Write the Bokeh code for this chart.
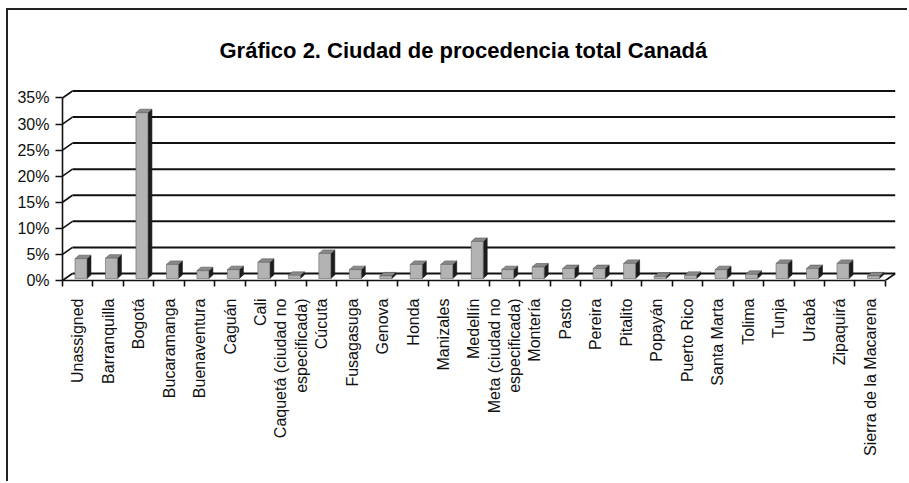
import math
from bokeh.plotting import figure
from bokeh.models import FixedTicker, Range1d
from bokeh.embed import file_html
from bokeh.resources import INLINE

categories = ["Unassigned", "Barranquilla", "Bogotá", "Bucaramanga", "Buenaventura",
              "Caguán", "Cali", "Caquetá (ciudad no\nespecificada)", "Cúcuta", "Fusagasuga",
              "Genova", "Honda", "Manizales", "Medellín", "Meta (ciudad no\nespecificada)",
              "Montería", "Pasto", "Pereira", "Pitalito", "Popayán", "Puerto Rico",
              "Santa Marta", "Tolima", "Tunja", "Urabá", "Zipaquirá", "Sierra de la Macarena"]
values = [3.8, 3.9, 31.8, 2.7, 1.5, 1.7, 3.1, 0.6, 4.8, 1.7, 0.5, 2.7, 2.7, 7.1, 1.7,
          2.2, 1.9, 1.9, 2.9, 0.4, 0.6, 1.7, 0.8, 2.9, 1.9, 2.9, 0.5]
y_ticks = [0, 5, 10, 15, 20, 25, 30, 35]
y_tick_labels = ["0%", "5%", "10%", "15%", "20%", "25%", "30%", "35%"]
title_text = "Gráfico 2. Ciudad de procedencia total Canadá"

FONT = "'Liberation Sans', sans-serif"

n = len(categories)
p = figure(width=901, height=473, x_range=Range1d(0, n + 0.33), y_range=Range1d(0, 37.2),
           output_backend="svg", toolbar_location=None,
           min_border_left=54, min_border_right=14, min_border_top=76, min_border_bottom=203)
p.styles = {"margin-left": "6px", "margin-top": "8px",
            "border-left": "2px solid #222", "border-top": "2px solid #222"}
p.outline_line_color = None
p.xgrid.visible = False
p.ygrid.visible = False

# title
p.title.text = title_text
p.title.text_font = FONT
p.title.text_font_size = "22px"
p.title.text_font_style = "bold"
p.title.text_color = "#000000"
p.title.align = "left"
p.title.offset = 157
p.title.standoff = 48

# depth of walls (data units)
DX = 10 / 30.5
DY = 7 / 5.215

# back wall gridlines and side diagonals
gx0 = [DX for _ in y_ticks]
gx1 = [n + DX for _ in y_ticks]
gy = [t + DY for t in y_ticks]
p.segment(x0=gx0, y0=gy, x1=gx1, y1=gy, line_color="#111111", line_width=2)
p.segment(x0=[0 for _ in y_ticks], y0=y_ticks, x1=gx0, y1=gy, line_color="#111111", line_width=1.6)
# floor right edge
p.segment(x0=[n], y0=[0], x1=[n + DX], y1=[DY], line_color="#111111", line_width=1.6)

# bars (3D look)
bx_off = 3.25 / 30.5
hw = 6 / 30.5
base = 2 / 5.215
ddx = 4 / 30.5
ddy = 3.5 / 5.215
cx = [i + 0.5 + bx_off for i in range(n)]
front_xs, front_ys, side_xs, side_ys, top_xs, top_ys = [], [], [], [], [], []
for c, v in zip(cx, values):
    l, r = c - hw, c + hw
    b, t = base, base + v
    front_xs.append([l, r, r, l]); front_ys.append([b, b, t, t])
    side_xs.append([r, r + ddx, r + ddx, r]); side_ys.append([b, b + ddy, t + ddy, t])
    top_xs.append([l, r, r + ddx, l + ddx]); top_ys.append([t, t, t + ddy, t + ddy])
p.patches(side_xs, side_ys, fill_color="#1c1c1c", line_color="#1c1c1c", line_width=0.6)
p.patches(top_xs, top_ys, fill_color="#8a8a8a", line_color="#555555", line_width=0.6)
p.patches(front_xs, front_ys, fill_color="#b3b3b3", line_color="#666666", line_width=0.6)

# y axis
ya = p.yaxis[0]
ya.ticker = FixedTicker(ticks=y_ticks)
ya.major_label_overrides = {t: s for t, s in zip(y_ticks, y_tick_labels)}
ya.bounds = (0, 35)
ya.axis_line_color = "#111111"
ya.axis_line_width = 1.6
ya.major_tick_line_color = "#111111"
ya.major_tick_line_width = 1.6
ya.major_tick_out = 7
ya.major_tick_in = 0
ya.minor_tick_line_color = None
ya.major_label_text_font = FONT
ya.major_label_text_font_size = "16px"
ya.major_label_text_color = "#111111"
ya.major_label_standoff = 6

# x axis
xa = p.xaxis[0]
centers = [i + 0.5 for i in range(n)]
xa.ticker = FixedTicker(ticks=centers, minor_ticks=list(range(n + 1)))
xa.major_label_overrides = {c: s for c, s in zip(centers, categories)}
xa.bounds = (0, n)
xa.axis_line_color = "#111111"
xa.axis_line_width = 1.6
xa.major_tick_line_color = None
xa.major_tick_out = 0
xa.major_tick_in = 0
xa.minor_tick_line_color = "#111111"
xa.minor_tick_line_width = 1.6
xa.minor_tick_out = 6
xa.minor_tick_in = 0
xa.major_label_orientation = math.pi / 2
xa.major_label_text_font = FONT
xa.major_label_text_font_size = "16px"
xa.major_label_text_color = "#111111"
xa.major_label_standoff = 12

open("out.html", "w").write(file_html(p, INLINE))
